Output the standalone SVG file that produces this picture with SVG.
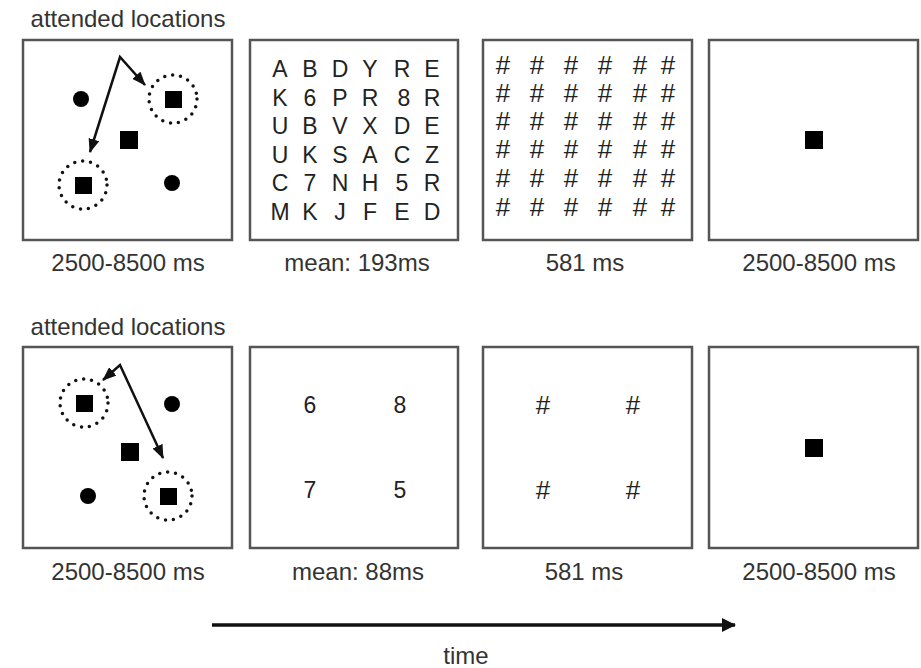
<svg xmlns="http://www.w3.org/2000/svg" width="921" height="668" viewBox="0 0 921 668">
<defs>
<style>
.box{fill:#fff;stroke:#555;stroke-width:2.5}
.t{font-family:"Liberation Sans",Arial,sans-serif;fill:#333;font-size:24px;text-anchor:middle}
.g{font-family:"Liberation Sans",Arial,sans-serif;fill:#222;font-size:23px;text-anchor:middle}
.h{font-family:"Liberation Sans",Arial,sans-serif;fill:#222;font-size:26px;text-anchor:middle}
.dot{fill:#000}
.sq{fill:#000}
.ring{fill:none;stroke:#111;stroke-width:3.5;stroke-linecap:round;stroke-dasharray:0 8}
.att{fill:none;stroke:#111;stroke-width:2.5;stroke-linejoin:miter}
.time{fill:none;stroke:#111;stroke-width:3.5}
</style>
<marker id="ah" viewBox="0 0 14 11" refX="13" refY="5.5" markerWidth="14" markerHeight="11" markerUnits="userSpaceOnUse" orient="auto-start-reverse">
<path d="M0,0 L14,5.5 L0,11 z" fill="#111"/>
</marker>
<marker id="th" viewBox="0 0 14 14" refX="13" refY="7" markerWidth="14" markerHeight="14" markerUnits="userSpaceOnUse" orient="auto">
<path d="M0,0 L14,7 L0,14 z" fill="#111"/>
</marker>
</defs>
<rect width="921" height="668" fill="#fff"/>

<text class="t" x="128" y="27">attended locations</text>
<text class="t" x="128" y="335">attended locations</text>

<g id="top-fixation">
<rect class="box" x="23" y="40" width="209" height="200"/>
<circle class="dot" cx="81" cy="99" r="8"/>
<circle class="ring" cx="173" cy="99" r="24"/>
<rect class="sq" x="165" y="91" width="17" height="17"/>
<rect class="sq" x="120" y="131" width="18" height="18"/>
<circle class="ring" cx="83" cy="185" r="24"/>
<rect class="sq" x="75" y="177" width="17" height="17"/>
<circle class="dot" cx="172" cy="183" r="8"/>
<text class="t" x="128" y="271">2500-8500 ms</text>
</g>

<g id="top-letters">
<rect class="box" x="250" y="40" width="208" height="200"/>
<g class="g">
<text x="280" y="77">A</text><text x="310" y="77">B</text><text x="340" y="77">D</text><text x="370" y="77">Y</text><text x="402" y="77">R</text><text x="432" y="77">E</text>
<text x="280" y="106">K</text><text x="310" y="106">6</text><text x="340" y="106">P</text><text x="370" y="106">R</text><text x="404" y="106">8</text><text x="432" y="106">R</text>
<text x="280" y="134">U</text><text x="310" y="134">B</text><text x="340" y="134">V</text><text x="370" y="134">X</text><text x="402" y="134">D</text><text x="432" y="134">E</text>
<text x="280" y="163">U</text><text x="310" y="163">K</text><text x="340" y="163">S</text><text x="370" y="163">A</text><text x="402" y="163">C</text><text x="432" y="163">Z</text>
<text x="280" y="191">C</text><text x="310" y="191">7</text><text x="340" y="191">N</text><text x="370" y="191">H</text><text x="402" y="191">5</text><text x="432" y="191">R</text>
<text x="280" y="220">M</text><text x="310" y="220">K</text><text x="340" y="220">J</text><text x="370" y="220">F</text><text x="402" y="220">E</text><text x="432" y="220">D</text>
</g>
<text class="t" x="357" y="271">mean: 193ms</text>
</g>

<g id="top-mask">
<rect class="box" x="483" y="40" width="209" height="200"/>
<g class="h">
<text x="503" y="74">#</text><text x="537" y="74">#</text><text x="571" y="74">#</text><text x="605" y="74">#</text><text x="640" y="74">#</text><text x="668" y="74">#</text>
<text x="503" y="102">#</text><text x="537" y="102">#</text><text x="571" y="102">#</text><text x="605" y="102">#</text><text x="640" y="102">#</text><text x="668" y="102">#</text>
<text x="503" y="130">#</text><text x="537" y="130">#</text><text x="571" y="130">#</text><text x="605" y="130">#</text><text x="640" y="130">#</text><text x="668" y="130">#</text>
<text x="503" y="158">#</text><text x="537" y="158">#</text><text x="571" y="158">#</text><text x="605" y="158">#</text><text x="640" y="158">#</text><text x="668" y="158">#</text>
<text x="503" y="187">#</text><text x="537" y="187">#</text><text x="571" y="187">#</text><text x="605" y="187">#</text><text x="640" y="187">#</text><text x="668" y="187">#</text>
<text x="503" y="216">#</text><text x="537" y="216">#</text><text x="571" y="216">#</text><text x="605" y="216">#</text><text x="640" y="216">#</text><text x="668" y="216">#</text>
</g>
<text class="t" x="585" y="271">581 ms</text>
</g>

<g id="top-probe">
<rect class="box" x="709" y="40" width="209" height="200"/>
<rect class="sq" x="805" y="131" width="18" height="18"/>
<text class="t" x="819" y="271">2500-8500 ms</text>
</g>

<g id="bottom-fixation">
<rect class="box" x="23" y="347" width="209" height="201"/>
<circle class="ring" cx="84" cy="403" r="24"/>
<rect class="sq" x="76" y="395" width="17" height="17"/>
<circle class="dot" cx="172" cy="404" r="8"/>
<rect class="sq" x="121" y="443" width="18" height="18"/>
<circle class="dot" cx="88" cy="496" r="8"/>
<circle class="ring" cx="168" cy="496" r="24"/>
<rect class="sq" x="160" y="488" width="17" height="17"/>
<text class="t" x="128" y="580">2500-8500 ms</text>
</g>

<g id="bottom-digits">
<rect class="box" x="250" y="347" width="208" height="201"/>
<g class="g">
<text x="310" y="413">6</text><text x="400" y="413">8</text>
<text x="310" y="498">7</text><text x="400" y="498">5</text>
</g>
<text class="t" x="358" y="580">mean: 88ms</text>
</g>

<g id="bottom-mask">
<rect class="box" x="483" y="347" width="209" height="201"/>
<g class="h">
<text x="543" y="414">#</text><text x="633" y="414">#</text>
<text x="543" y="499">#</text><text x="633" y="499">#</text>
</g>
<text class="t" x="584" y="580">581 ms</text>
</g>

<g id="bottom-probe">
<rect class="box" x="709" y="347" width="209" height="201"/>
<rect class="sq" x="805" y="439" width="18" height="18"/>
<text class="t" x="819" y="580">2500-8500 ms</text>
</g>

<g id="connectors">
<polyline class="att" points="90,152 120,57 145,85" marker-start="url(#ah)" marker-end="url(#ah)"/>
<polyline class="att" points="103,380 120,365 163,458" marker-start="url(#ah)" marker-end="url(#ah)"/>
<line class="time" x1="212" y1="625" x2="735" y2="625" marker-end="url(#th)"/>
</g>
<text class="t" x="466" y="664">time</text>
</svg>
